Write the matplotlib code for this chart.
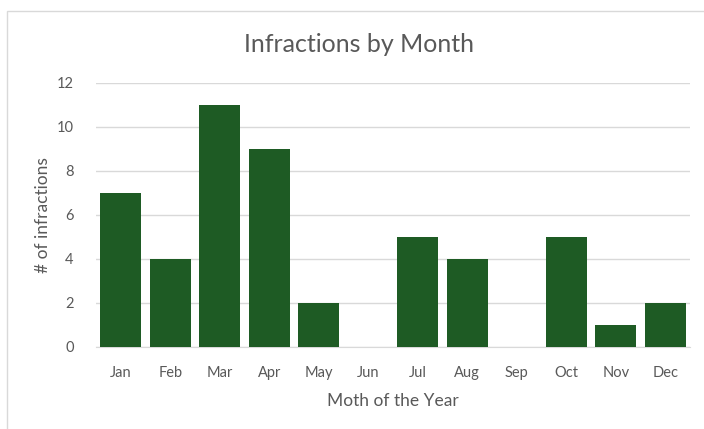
import matplotlib.pyplot as plt
from matplotlib.patches import Rectangle

months = ["Jan", "Feb", "Mar", "Apr", "May", "Jun",
          "Jul", "Aug", "Sep", "Oct", "Nov", "Dec"]
infractions = [7, 4, 11, 9, 2, 0, 5, 4, 0, 5, 1, 2]
y_ticks = [0, 2, 4, 6, 8, 10, 12]

plt.rcParams['font.family'] = ['Lato', 'DejaVu Sans']

fig = plt.figure(figsize=(7.04, 4.29), dpi=100)
fig.patch.set_facecolor("white")

# chart border (only top and left edges visible in the crop)
fig.add_artist(Rectangle((7 / 704, -0.1), 1.2, 1 - 11 / 429 + 0.1,
                         transform=fig.transFigure, fill=False,
                         edgecolor="#d9d9d9", linewidth=1))

ax = fig.add_axes([96 / 704, 1 - 347 / 429, 594 / 704, 264 / 429])
ax.bar(range(len(months)), infractions, width=0.83, color="#1e5b24", zorder=3)

ax.set_xlim(-0.5, len(months) - 0.5)
ax.set_ylim(0, 12)
ax.set_yticks(y_ticks)
ax.set_xticks(range(len(months)))
ax.set_xticklabels(months)
ax.grid(axis="y", color="#d9d9d9", linewidth=1, zorder=0)
for side in ["top", "right", "left"]:
    ax.spines[side].set_visible(False)
ax.spines["bottom"].set_color("#d9d9d9")
ax.tick_params(length=0, colors="#595959", labelsize=10.5)
ax.tick_params(axis="x", pad=14)
ax.tick_params(axis="y", pad=16)

# title is centred on the whole chart area, not the plot area
fig.text(359 / 704, 1 - 44 / 429, "Infractions by Month", fontsize=18,
         color="#595959", ha="center", va="center")
ax.set_xlabel("Moth of the Year", fontsize=12.5, color="#595959", labelpad=9)
ax.set_ylabel("# of infractions", fontsize=12.5, color="#595959", labelpad=4)

fig.savefig("out.png", dpi=100)
